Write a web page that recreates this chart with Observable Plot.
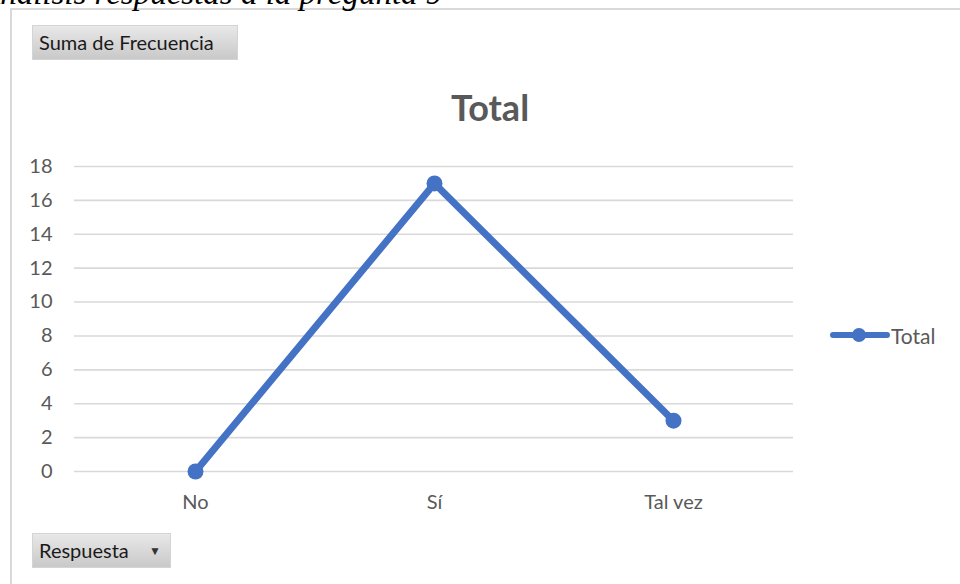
<!DOCTYPE html>
<html>
<head>
<meta charset="utf-8">
<script src="https://cdn.jsdelivr.net/npm/d3@7"></script>
<script src="https://cdn.jsdelivr.net/npm/@observablehq/plot@0.6"></script>
<style>
  html, body { margin: 0; padding: 0; background: #fff; overflow: hidden; }
  #wrap { position: relative; width: 960px; height: 584px; overflow: hidden; font-family: Lato, "Open Sans", sans-serif; }
  #caption { position: absolute; left: -20px; top: -23px; font-family: "Liberation Serif", "DejaVu Serif", serif; font-style: italic; font-size: 33px; line-height: 1; color: #000; white-space: nowrap; }
  #frame { position: absolute; left: 10px; top: 8px; width: 960px; height: 600px; border-left: 2px solid #d9d9d9; border-top: 2px solid #d9d9d9; box-sizing: border-box; }
  .btn { position: absolute; background: linear-gradient(#e8e8e8, #c9c9c9); border: 1px solid #d4d4d4; box-sizing: border-box; font-size: 20px; color: #1a1a1a; line-height: 33px; padding-left: 6px; white-space: nowrap; }
  #title { position: absolute; left: 0; width: 980px; top: 86px; text-align: center; font-weight: bold; font-size: 36px; color: #595959; line-height: 1.2; }
  #legend { position: absolute; left: 828px; top: 320px; display: flex; align-items: center; font-size: 21px; color: #595959; }
  #chart { position: absolute; left: 0; top: 0; }
</style>
</head>
<body>
<div id="wrap">
  <div id="chart"></div>
  <div id="frame"></div>
  <div id="caption">Análisis respuestas a la pregunta 9</div>
  <div class="btn" style="left:32px;top:25px;width:206px;height:35px;">Suma de Frecuencia</div>
  <div id="title">Total</div>
  <div id="legend">
    <svg width="62" height="30"><line x1="5" y1="15" x2="59" y2="15" stroke="#4472C4" stroke-width="6" stroke-linecap="round"/><circle cx="31" cy="15" r="7" fill="#4472C4"/></svg>
    <span style="margin-left:1px">Total</span>
  </div>
  <div class="btn" style="left:32px;top:533px;width:139px;height:35px;">Respuesta<span style="position:absolute;left:116px;top:0;font-size:12px;color:#333;">&#9660;</span></div>
</div>
<script>
const categories = ["No", "Sí", "Tal vez"];
const values = [0, 17, 3];
const yTicks = [0, 2, 4, 6, 8, 10, 12, 14, 16, 18];
const seriesName = "Total";

const data = categories.map((c, i) => ({respuesta: c, total: values[i], serie: seriesName}));

const chart = Plot.plot({
  width: 960,
  height: 584,
  marginLeft: 74,
  marginRight: 167,
  marginTop: 166,
  marginBottom: 113,
  style: {fontFamily: "Lato, 'Open Sans', sans-serif", fontSize: "20px", color: "#595959", background: "transparent", overflow: "visible"},
  x: {type: "point", domain: categories, padding: 0.5, label: null, tickSize: 0, tickPadding: 23},
  y: {domain: [0, 18], ticks: yTicks, label: null, tickSize: 0, tickPadding: 22},
  marks: [
    Plot.ruleY(yTicks, {stroke: "#d9d9d9", strokeWidth: 1.6}),
    Plot.line(data, {x: "respuesta", y: "total", stroke: "#4472C4", strokeWidth: 7, strokeLinejoin: "round", strokeLinecap: "round"}),
    Plot.dot(data, {x: "respuesta", y: "total", r: 8, fill: "#4472C4", stroke: "none"})
  ]
});
document.getElementById("chart").appendChild(chart);
</script>
</body>
</html>
